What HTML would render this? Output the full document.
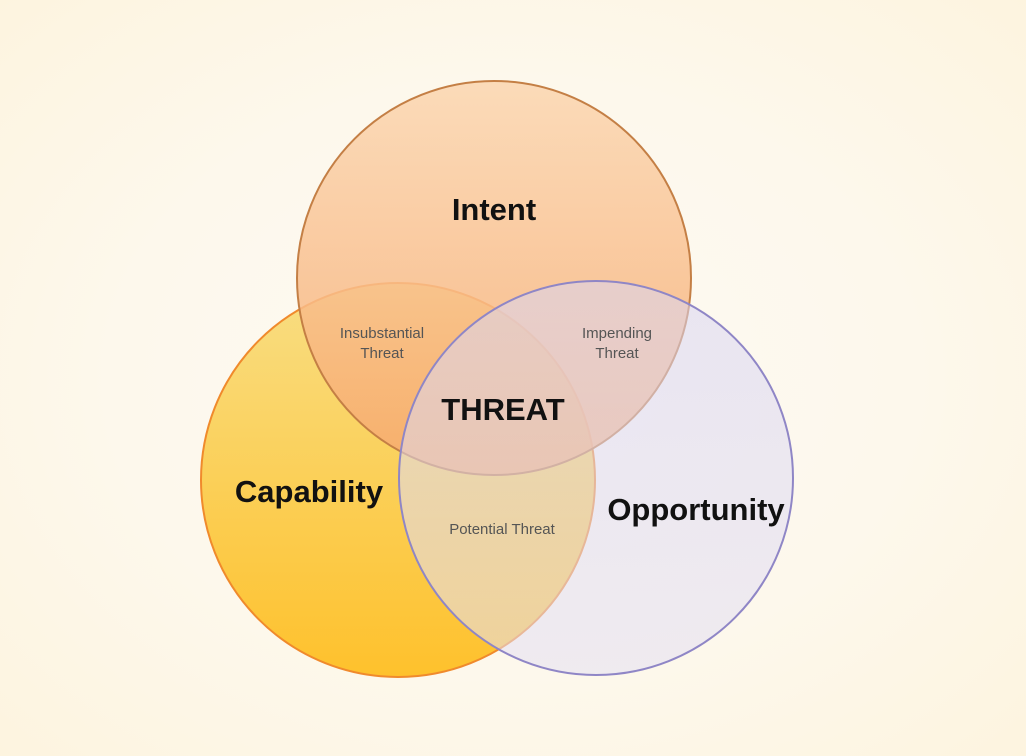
<!DOCTYPE html>
<html><head><meta charset="utf-8"><style>
html,body{margin:0;padding:0;width:1026px;height:756px;overflow:hidden;}
body{background:radial-gradient(ellipse at 50% 50%,#fdfaf3 0%,#fdf8ec 55%,#fdf4df 100%);}
svg{display:block}
</style></head><body>
<svg width="1026" height="756" viewBox="0 0 1026 756" xmlns="http://www.w3.org/2000/svg">
<defs>
<linearGradient id="cap" x1="0" y1="0" x2="0" y2="1">
<stop offset="0" stop-color="#f8de84"/><stop offset="1" stop-color="#fec12c"/></linearGradient>
<linearGradient id="int" x1="0" y1="0" x2="0" y2="1">
<stop offset="0" stop-color="#fbd6b0"/><stop offset="1" stop-color="#f6a86c"/></linearGradient>
<linearGradient id="opp" x1="0" y1="0" x2="0" y2="1">
<stop offset="0" stop-color="#d8d4f2"/><stop offset="1" stop-color="#e4e0f2"/></linearGradient>
</defs>
<circle cx="398" cy="480" r="197" fill="url(#cap)" stroke="#f08a2c" stroke-width="2"/>
<circle cx="494" cy="278" r="197" fill="url(#int)" fill-opacity="0.85" stroke="#c47f45" stroke-width="2"/>
<circle cx="596" cy="478" r="197" fill="url(#opp)" fill-opacity="0.55" stroke="#8f86c6" stroke-width="2"/>
<g font-family="Liberation Sans, sans-serif" text-anchor="middle" fill="#111">
<text x="494" y="220" font-size="31" font-weight="bold">Intent</text>
<text x="309" y="502" font-size="31" font-weight="bold">Capability</text>
<text x="696" y="520" font-size="31" font-weight="bold">Opportunity</text>
<text x="503" y="420" font-size="31" font-weight="bold">THREAT</text>
</g>
<g font-family="Liberation Sans, sans-serif" text-anchor="middle" fill="#555" font-size="15">
<text x="382" y="338">Insubstantial</text>
<text x="382" y="358">Threat</text>
<text x="617" y="338">Impending</text>
<text x="617" y="358">Threat</text>
<text x="502" y="534">Potential Threat</text>
</g>
</svg>
</body></html>
